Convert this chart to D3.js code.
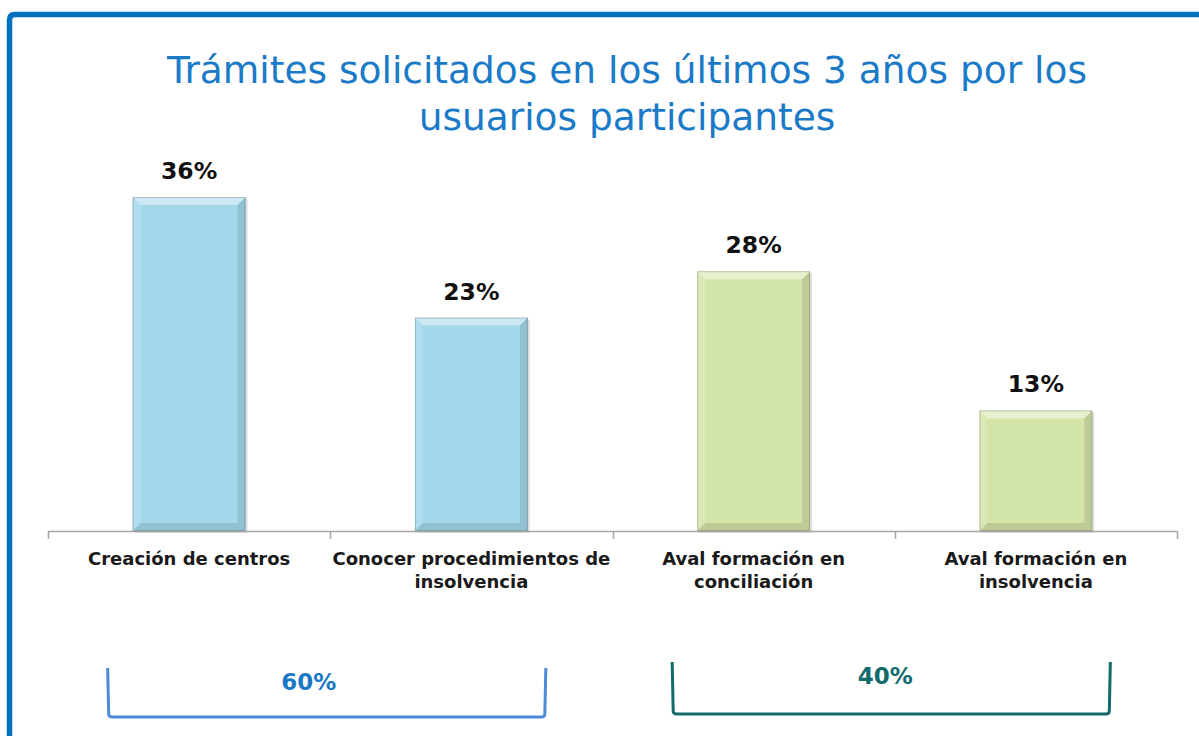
<head>
	<meta charset="utf-8">
	<script src="https://d3js.org/d3.v7.min.js"></script>
	<style>
		body { margin: 0; background: #fff; }
		svg { display: block; font-family: "DejaVu Sans", sans-serif; }
	</style>
</head>
<body>

<svg width="1199" height="736" id="chart"></svg>

<script>

	var categories = [
		["Creación de centros"],
		["Conocer procedimientos de", "insolvencia"],
		["Aval formación en", "conciliación"],
		["Aval formación en", "insolvencia"]
	];
	var values = [36, 23, 28, 13];
	var groupOf = [0, 0, 1, 1];
	var groupLabels = ["60%", "40%"];
	var titleLines = ["Trámites solicitados en los últimos 3 años por los", "usuarios participantes"];

	var colors = ["#a2d8ea", "#d3e4a8"];
	var groupColors = ["#4f8ad6", "#116b6b"];
	var groupText = ["#1a78c6", "#116b6b"];

	var svg = d3.select("#chart");

	// blue frame (right / bottom run off the picture)
	svg.append("path")
		.attr("d", "M9.5,740 L9.5,20 Q9.5,14.5 15,14.5 L1210,14.5")
		.attr("fill", "none")
		.attr("stroke", "#0070c0")
		.attr("stroke-width", 5.5);

	svg.append("g").selectAll("text")
		.data(titleLines)
		.enter().append("text")
		.attr("x", 627)
		.attr("y", (d, i) => 83 + i * 47)
		.attr("text-anchor", "middle")
		.attr("fill", "#1a7ac8")
		.style("font-size", "37.5px")
		.text(d => d);

	var x = d3.scaleBand()
		.domain(d3.range(categories.length))
		.range([48, 1177])
		.paddingInner(0.6)
		.paddingOuter(0.3);

	var y = d3.scaleLinear()
		.domain([0, 36])
		.range([531, 197]);

	// bars with bevel
	var bars = svg.append("g").selectAll("g")
		.data(values)
		.enter().append("g")
		.attr("transform", (d, i) => `translate(${x(i)},${y(d)})`);

	var bw = x.bandwidth(), b = 8;

	bars.append("rect")
		.attr("x", 2).attr("y", 2)
		.attr("width", bw).attr("height", d => y(0) - y(d))
		.attr("fill", "#000").attr("opacity", 0.12);

	bars.append("rect")
		.attr("width", bw).attr("height", d => y(0) - y(d))
		.attr("fill", (d, i) => colors[groupOf[i]]);

	bars.append("path")
		.attr("d", `M0,0 L${bw},0 L${bw - b},${b} L${b},${b} Z`)
		.attr("fill", "#fff").attr("opacity", 0.45);

	bars.append("path")
		.attr("d", d => { var h = y(0) - y(d); return `M0,0 L${b},${b} L${b},${h - b} L0,${h} Z`; })
		.attr("fill", "#fff").attr("opacity", 0.15);

	bars.append("path")
		.attr("d", d => { var h = y(0) - y(d); return `M${bw},0 L${bw},${h} L${bw - b},${h - b} L${bw - b},${b} Z`; })
		.attr("fill", "#000").attr("opacity", 0.1);

	bars.append("path")
		.attr("d", d => { var h = y(0) - y(d); return `M0,${h} L${bw},${h} L${bw - b},${h - b} L${b},${h - b} Z`; })
		.attr("fill", "#000").attr("opacity", 0.1);

	bars.append("rect")
		.attr("x", 0.5).attr("y", 0.5)
		.attr("width", bw - 1).attr("height", d => y(0) - y(d) - 1)
		.attr("fill", "none").attr("stroke", "#000").attr("stroke-opacity", 0.18);

	// value labels
	svg.append("g").selectAll("text")
		.data(values)
		.enter().append("text")
		.attr("x", (d, i) => x(i) + bw / 2)
		.attr("y", d => y(d) - 18)
		.attr("text-anchor", "middle")
		.attr("font-weight", "bold")
		.style("font-size", "23.5px")
		.attr("fill", "#111")
		.text(d => d + "%");

	// axis
	var ticks = d3.range(categories.length + 1).map(i => 48 + i * (1177 - 48) / categories.length);
	var axis = svg.append("g");
	axis.append("line")
		.attr("x1", 48).attr("x2", 1177)
		.attr("y1", 531.5).attr("y2", 531.5)
		.attr("stroke", "#a6a6a6").attr("stroke-width", 1.5);
	axis.selectAll(".tick")
		.data(ticks)
		.enter().append("line")
		.attr("x1", d => Math.round(d) + 0.5).attr("x2", d => Math.round(d) + 0.5)
		.attr("y1", 531).attr("y2", 539)
		.attr("stroke", "#a6a6a6").attr("stroke-width", 1.5);

	var cat = svg.append("g").selectAll("text")
		.data(categories)
		.enter().append("text")
		.attr("x", (d, i) => x(i) + bw / 2)
		.attr("y", 565)
		.attr("text-anchor", "middle")
		.attr("font-weight", "bold")
		.style("font-size", "18px")
		.attr("fill", "#1a1a1a");

	cat.selectAll("tspan")
		.data(d => d)
		.enter().append("tspan")
		.attr("x", function() { return d3.select(this.parentNode).attr("x"); })
		.attr("dy", (d, i) => i ? 23 : 0)
		.text(d => d);

	// group brackets
	var groups = groupLabels.map((g, k) => {
		var idx = d3.range(values.length).filter(i => groupOf[i] === k);
		return { label: g, k: k, x0: x(idx[0]) - 25, x1: x(idx[idx.length - 1]) + bw + 18 };
	});
	var tops = [668, 662], bottoms = [717, 714];

	var br = svg.append("g").selectAll("g")
		.data(groups)
		.enter().append("g");

	br.append("path")
		.attr("d", d => `M${d.x0},${tops[d.k]} L${d.x0 + 1},${bottoms[d.k] - 3} Q${d.x0 + 1},${bottoms[d.k]} ${d.x0 + 5},${bottoms[d.k]} L${d.x1 - 5},${bottoms[d.k]} Q${d.x1 - 1},${bottoms[d.k]} ${d.x1 - 1},${bottoms[d.k] - 3} L${d.x1},${tops[d.k]}`)
		.attr("fill", "none")
		.attr("stroke", d => groupColors[d.k])
		.attr("stroke-width", 3);

	br.append("text")
		.attr("x", d => (d.x0 + d.x1) / 2 - 18 + d.k * 12)
		.attr("y", d => tops[d.k] + 22)
		.attr("text-anchor", "middle")
		.attr("font-weight", "bold")
		.style("font-size", "23px")
		.attr("fill", d => groupText[d.k])
		.text(d => d.label);

</script>
</body>
